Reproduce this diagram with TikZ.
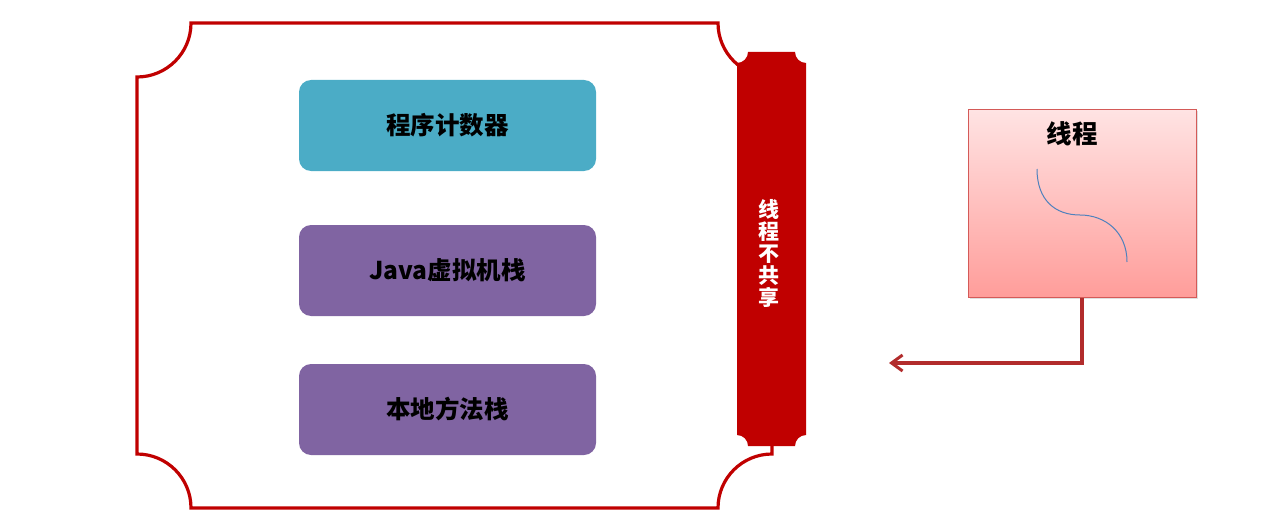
\documentclass[tikz,border=0pt]{standalone}
\usepackage{fontspec}
\newfontfamily\cjk{Noto Sans CJK SC}
\usetikzlibrary{arrows.meta,shadows}
\definecolor{frameRed}{HTML}{C00000}
\definecolor{tealBox}{HTML}{4BACC6}
\definecolor{purpleBox}{HTML}{8064A2}
\definecolor{threadTop}{HTML}{FFE3E3}
\definecolor{threadBot}{HTML}{FF9D9A}
\definecolor{threadLine}{HTML}{D45A58}
\definecolor{curveBlue}{HTML}{4F81BD}
\definecolor{arrowRed}{HTML}{B22C2C}
\tikzset{
  membox/.style={rounded corners=12pt, minimum width=297pt, minimum height=91pt, inner sep=0pt,
    font=\cjk\bfseries\fontsize{24.5pt}{28pt}\selectfont, text=black},
  framepath/.style={draw=frameRed, line width=3.2pt},
  threadbox/.style={draw=threadLine, line width=1pt, top color=threadTop, bottom color=threadBot,
    minimum width=228pt, minimum height=187pt, inner sep=0pt,
    drop shadow={shadow xshift=1.5pt, shadow yshift=-1.5pt, opacity=0.25}},
  flowarrow/.style={draw=arrowRed, line width=3.2pt, -{Straight Barb[length=11pt,width=16pt,line width=3pt]}}
}
\begin{document}
\begin{tikzpicture}[x=1pt,y=-1pt]
\useasboundingbox (0,0) rectangle (1279,524);
% frame
\draw[framepath] (191,23) -- (718,23)
  arc[start angle=180, end angle=270, radius=54pt] -- (772,454)
  arc[start angle=90, end angle=180, radius=54pt] -- (191,508)
  arc[start angle=0, end angle=90, radius=54pt] -- (137,77)
  arc[start angle=270, end angle=360, radius=54pt] -- cycle;
% bar
\fill[frameRed] (748,52) -- (795,52)
  arc[start angle=180, end angle=270, radius=11pt] -- (806,435)
  arc[start angle=90, end angle=180, radius=11pt] -- (748,446)
  arc[start angle=0, end angle=90, radius=11pt] -- (737,63)
  arc[start angle=270, end angle=360, radius=11pt] -- cycle;
\node[align=center, text=white, font=\cjk\bfseries\fontsize{21pt}{22pt}\selectfont] (bar) at (769,253) {线\\程\\不\\共\\享};
% boxes
\node[membox, fill=tealBox] (pc) at (447.5,125.5) {程序计数器};
\node[membox, fill=purpleBox] (jvm) at (447.5,270.5) {Java虚拟机栈};
\node[membox, fill=purpleBox] (native) at (447.5,409.5) {本地方法栈};
% thread
\node[threadbox] (thread) at (1082,203.5) {};
\node[font=\cjk\bfseries\fontsize{25.5pt}{28pt}\selectfont, text=black] (threadlabel) at (1072,134) {线程};
\draw[curveBlue, line width=1pt] (1037,169) .. controls (1037,200) and (1055,215) .. (1080,215)
  .. controls (1105,215) and (1127,232) .. (1127,262);
\coordinate (arrowend) at (889,363);
\draw[flowarrow] (thread.south) |- (arrowend);
\end{tikzpicture}
\end{document}
